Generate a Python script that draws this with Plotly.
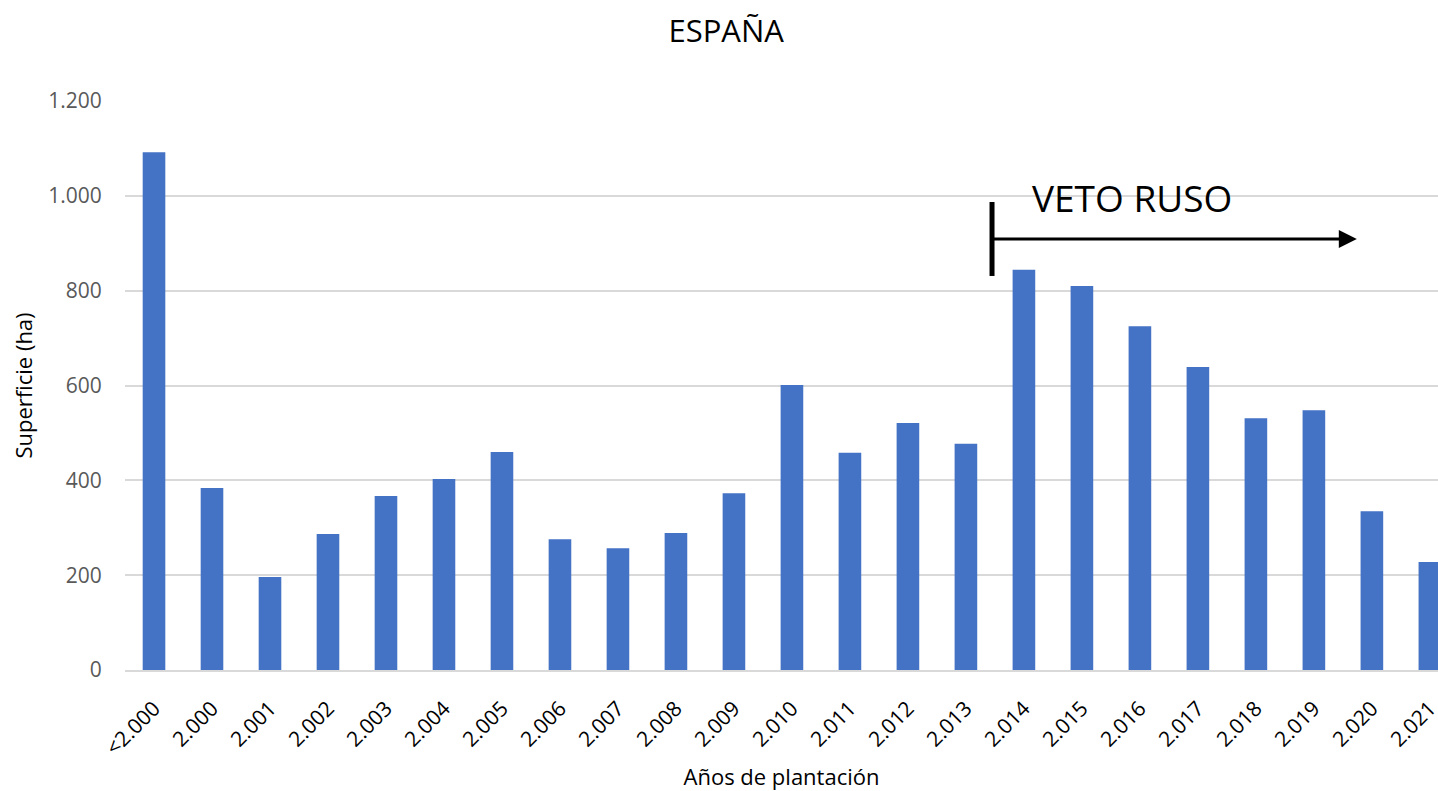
import plotly.graph_objects as go

# Data
years = ["<2.000", "2.000", "2.001", "2.002", "2.003", "2.004", "2.005", "2.006",
         "2.007", "2.008", "2.009", "2.010", "2.011", "2.012", "2.013", "2.014",
         "2.015", "2.016", "2.017", "2.018", "2.019", "2.020", "2.021"]
surface_ha = [1092, 384, 196, 287, 367, 403, 460, 276, 257, 289, 373, 601,
              458, 521, 477, 844, 810, 725, 639, 531, 548, 335, 228]
y_ticks = [0, 200, 400, 600, 800, 1000, 1200]
y_tick_labels = ["0", "200", "400", "600", "800", "1.000", "1.200"]

FONT = "Open Sans"
BAR = "#4472C4"
GRID = "#d9d9d9"

# "VETO RUSO" marker, in data units (between 2.013 and 2.014, running to 2.020)
veto_x0, veto_x1 = 14.45, 20.74
veto_y = 909
veto_bar_y = (831, 987)

fig = go.Figure(
    go.Bar(x=years, y=surface_ha, marker_color=BAR, marker_line_width=0)
)

fig.add_shape(
    type="line", xref="x", yref="y",
    x0=veto_x0, x1=veto_x0, y0=veto_bar_y[0], y1=veto_bar_y[1],
    line=dict(color="black", width=5),
)
fig.add_annotation(
    x=veto_x1, y=veto_y, ax=veto_x0, ay=veto_y,
    xref="x", yref="y", axref="x", ayref="y",
    text="", showarrow=True, arrowhead=2, arrowsize=1.2,
    arrowwidth=3, arrowcolor="black",
)
fig.add_annotation(
    x=16.86, y=997, xref="x", yref="y", text="VETO RUSO",
    showarrow=False, font=dict(family=FONT, size=37, color="black"),
)

fig.update_layout(
    width=1438, height=791,
    margin=dict(l=125, r=0, t=101, b=121, autoexpand=False),
    paper_bgcolor="white", plot_bgcolor="white",
    bargap=0.61,
    showlegend=False,
    font=dict(family=FONT, color="black"),
    title=dict(
        text="ESPAÑA", x=0.505, xanchor="center", y=1 - 31 / 791,
        yanchor="middle", font=dict(family=FONT, size=31, color="black"),
    ),
)
# the original chart is cropped on the right, part way into the last bar gap
fig.update_xaxes(
    range=[-0.5, 22.14],
    automargin=False,
    tickangle=-45,
    tickfont=dict(family=FONT, size=21, color="black"),
    ticks="outside", ticklen=16, tickcolor="rgba(0,0,0,0)",
    showline=True, linecolor=GRID, linewidth=2,
    title=dict(text="Años de plantación", standoff=11,
               font=dict(family=FONT, size=22, color="black")),
)
fig.update_yaxes(
    range=[0, 1200],
    automargin=False,
    tickvals=y_ticks, ticktext=y_tick_labels,
    tickfont=dict(family=FONT, size=21, color="#595959"),
    ticks="outside", ticklen=18, tickcolor="rgba(0,0,0,0)",
    showgrid=True, gridcolor=GRID, gridwidth=1.5,
    zeroline=False,
    title=dict(text="Superficie (ha)", standoff=9,
               font=dict(family=FONT, size=22, color="black")),
)

# drop the default page margin so the figure sits at the window's corner
fig.write_html(
    "out.html",
    config={"displayModeBar": False},
    post_script="document.body.style.margin='0';document.body.style.overflow='hidden';",
)
